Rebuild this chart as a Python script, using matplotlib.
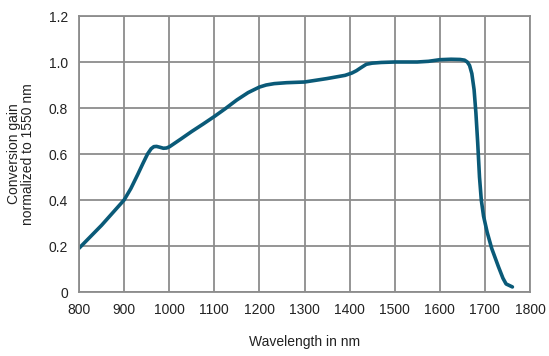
import numpy as np
import matplotlib
matplotlib.use("Agg")
import matplotlib.pyplot as plt

plt.rcParams["font.family"] = ["Liberation Sans", "DejaVu Sans"]

wavelength = [800, 825, 850, 875, 900, 915, 930, 942, 952, 960, 966, 972, 980, 987, 994,
              1001, 1025, 1050, 1075, 1100, 1125, 1150, 1175, 1200, 1215, 1233, 1260,
              1300, 1350, 1390, 1405, 1415, 1425, 1437, 1450, 1470, 1500, 1550, 1575,
              1600, 1625, 1645, 1655, 1661, 1666, 1671, 1676, 1680, 1684, 1688, 1692,
              1697, 1705, 1715, 1730, 1740, 1747, 1761]
gain = [0.19, 0.24, 0.29, 0.345, 0.40, 0.45, 0.51, 0.56, 0.60, 0.623, 0.632, 0.633, 0.629,
        0.625, 0.626, 0.632, 0.664, 0.698, 0.73, 0.763, 0.798, 0.835, 0.867, 0.891, 0.9,
        0.906, 0.91, 0.913, 0.928, 0.942, 0.952, 0.962, 0.975, 0.99, 0.995, 0.998, 1.0,
        1.0, 1.003, 1.01, 1.012, 1.011, 1.008, 1.0, 0.985, 0.95, 0.88, 0.78, 0.65, 0.50,
        0.40, 0.33, 0.26, 0.19, 0.11, 0.06, 0.035, 0.022]

xticks = [800, 900, 1000, 1100, 1200, 1300, 1400, 1500, 1600, 1700, 1800]
yticks = [0, 0.2, 0.4, 0.6, 0.8, 1.0, 1.2]
ylabels = ["0", "0.2", "0.4", "0.6", "0.8", "1.0", "1.2"]

fig = plt.figure(figsize=(5.49, 3.56), dpi=100)
ax = fig.add_axes([79/549, 1-292/356, 451/549, 276/356])
ax.plot(wavelength, gain, color="#0a5a78", lw=2.6, solid_capstyle="round",
        solid_joinstyle="round")
ax.set_xlim(800, 1800)
ax.set_ylim(0, 1.2)
ax.set_xticks(xticks)
ax.set_yticks(yticks)
ax.set_yticklabels(ylabels)
ax.grid(True, color="#8c8c8c", lw=1.3)
ax.set_axisbelow(True)
for s in ax.spines.values():
    s.set_color("#8c8c8c")
    s.set_linewidth(1.3)
ax.tick_params(length=0, labelsize=10, colors="#222222", pad=8)
ax.set_xlabel("Wavelength in nm", fontsize=10, color="#222222", labelpad=13)
ax.set_ylabel("Conversion gain\nnormalized to 1550 nm", fontsize=10, color="#222222",
              labelpad=10, linespacing=1.0)
fig.savefig("out.png", dpi=100)
